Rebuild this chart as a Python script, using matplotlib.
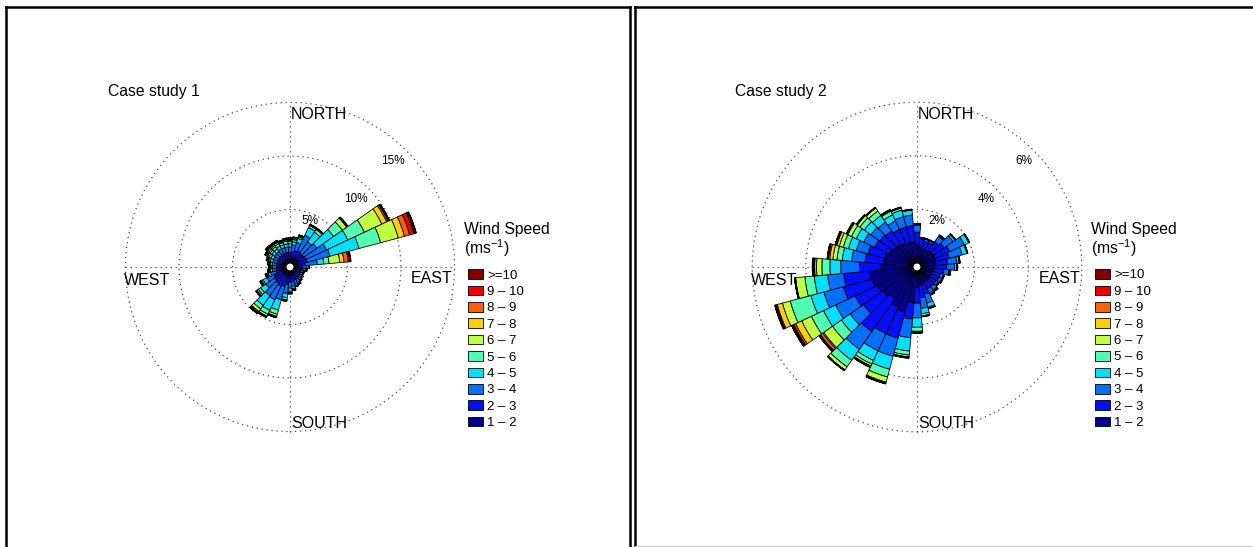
import matplotlib
matplotlib.use("Agg")
import matplotlib.pyplot as plt
from matplotlib.patches import Wedge, Circle, Rectangle

plt.rcParams["font.family"] = ["Liberation Sans", "DejaVu Sans"]
plt.rcParams["mathtext.fontset"] = "custom"
plt.rcParams["mathtext.rm"] = "Liberation Sans"
plt.rcParams["mathtext.it"] = "Liberation Sans:italic"

# compass bearing of each 10 degree sector (centre of sector)
DIRECTIONS = list(range(0, 360, 10))

SPEED_LABELS = ["1 \u2013 2", "2 \u2013 3", "3 \u2013 4", "4 \u2013 5", "5 \u2013 6",
                "6 \u2013 7", "7 \u2013 8", "8 \u2013 9", "9 \u2013 10", ">=10"]
SPEED_COLORS = ["#000090", "#0010ff", "#0070ff", "#00e0ff", "#50ffb0",
                "#c0ff40", "#ffd000", "#ff6000", "#f00000", "#800000"]

# ---- case study 1: frequency (%) per sector, one list per speed class ----
case1_1to2 = [0.40, 0.40, 0.40, 0.40, 0.40, 0.40, 0.40, 0.40, 0.40,
              0.30, 0.30, 0.30, 0.30, 0.30, 0.30, 0.30, 0.35, 0.40,
              0.40, 0.50, 0.50, 0.50, 0.50, 0.50, 0.50, 0.40, 0.40,
              0.40, 0.40, 0.40, 0.40, 0.40, 0.40, 0.40, 0.40, 0.40]
case1_2to3 = [0.60, 0.70, 0.80, 0.90, 0.80, 0.80, 0.90, 0.90, 0.70,
              0.50, 0.50, 0.40, 0.40, 0.45, 0.50, 0.55, 0.55, 0.60,
              0.65, 0.80, 1.00, 1.10, 1.00, 0.90, 0.80, 0.60, 0.50,
              0.50, 0.50, 0.50, 0.50, 0.55, 0.55, 0.60, 0.60, 0.60]
case1_3to4 = [0.50, 0.60, 0.80, 1.60, 1.30, 1.50, 2.10, 2.20, 1.10,
              0.40, 0.30, 0.25, 0.25, 0.30, 0.30, 0.40, 0.40, 0.45,
              0.55, 0.80, 1.30, 1.40, 1.40, 1.00, 0.70, 0.50, 0.40,
              0.35, 0.40, 0.40, 0.40, 0.45, 0.45, 0.50, 0.50, 0.50]
case1_4to5 = [0.30, 0.30, 0.40, 0.80, 1.10, 1.90, 2.20, 2.80, 0.60,
              0.15, 0.10, 0.05, 0.05, 0.05, 0.10, 0.15, 0.15, 0.20,
              0.30, 0.40, 1.00, 1.10, 1.10, 0.60, 0.40, 0.25, 0.20,
              0.15, 0.20, 0.25, 0.30, 0.30, 0.30, 0.30, 0.30, 0.30]
case1_5to6 = [0.20, 0.20, 0.15, 0.20, 0.30, 1.00, 1.70, 2.10, 0.50,
              0.05, 0.00, 0.00, 0.00, 0.00, 0.00, 0.00, 0.05, 0.10,
              0.12, 0.20, 0.40, 0.40, 0.40, 0.25, 0.15, 0.10, 0.10,
              0.10, 0.10, 0.15, 0.20, 0.20, 0.25, 0.25, 0.20, 0.25]
case1_6to7 = [0.10, 0.10, 0.10, 0.06, 0.07, 0.50, 1.80, 1.70, 1.00,
              0.00, 0.00, 0.00, 0.00, 0.00, 0.00, 0.00, 0.00, 0.05,
              0.05, 0.07, 0.20, 0.20, 0.30, 0.15, 0.08, 0.08, 0.05,
              0.05, 0.05, 0.10, 0.15, 0.15, 0.15, 0.15, 0.10, 0.12]
case1_7to8 = [0.08, 0.05, 0.03, 0.02, 0.02, 0.07, 0.50, 0.60, 0.40,
              0.00, 0.00, 0.00, 0.00, 0.00, 0.00, 0.00, 0.00, 0.00,
              0.02, 0.02, 0.06, 0.06, 0.10, 0.05, 0.03, 0.04, 0.03,
              0.03, 0.03, 0.05, 0.10, 0.15, 0.12, 0.08, 0.05, 0.07]
case1_8to9 = [0.06, 0.03, 0.01, 0.01, 0.01, 0.02, 0.15, 0.50, 0.40,
              0.00, 0.00, 0.00, 0.00, 0.00, 0.00, 0.00, 0.00, 0.00,
              0.01, 0.01, 0.02, 0.02, 0.05, 0.03, 0.02, 0.02, 0.01,
              0.01, 0.01, 0.03, 0.08, 0.10, 0.08, 0.04, 0.03, 0.03]
case1_9to10 = [0.03, 0.01, 0.01, 0.01, 0.00, 0.01, 0.05, 0.40, 0.15,
               0.00, 0.00, 0.00, 0.00, 0.00, 0.00, 0.00, 0.00, 0.00,
               0.00, 0.00, 0.01, 0.01, 0.03, 0.01, 0.01, 0.01, 0.01,
               0.01, 0.01, 0.01, 0.04, 0.06, 0.03, 0.02, 0.01, 0.02]
case1_ge10 = [0.03, 0.01, 0.00, 0.00, 0.00, 0.00, 0.05, 0.20, 0.05,
              0.00, 0.00, 0.00, 0.00, 0.00, 0.00, 0.00, 0.00, 0.00,
              0.00, 0.00, 0.01, 0.01, 0.02, 0.01, 0.01, 0.00, 0.00,
              0.00, 0.00, 0.01, 0.03, 0.04, 0.02, 0.01, 0.01, 0.01]

# ---- case study 2 ----
case2_1to2 = [0.70, 0.60, 0.55, 0.55, 0.60, 0.60, 0.60, 0.60, 0.55,
              0.55, 0.50, 0.45, 0.45, 0.45, 0.45, 0.45, 0.50, 0.55,
              0.60, 1.20, 1.60, 1.50, 1.30, 1.40, 1.50, 1.60, 1.65,
              1.20, 1.10, 1.10, 1.00, 0.95, 0.90, 0.85, 0.80, 0.80]
case2_2to3 = [0.45, 0.30, 0.30, 0.30, 0.40, 0.50, 0.60, 0.50, 0.45,
              0.40, 0.35, 0.30, 0.30, 0.28, 0.30, 0.30, 0.40, 0.45,
              0.60, 0.60, 1.00, 1.10, 1.50, 0.90, 0.90, 1.10, 0.95,
              0.80, 0.70, 0.65, 0.60, 0.60, 0.60, 0.55, 0.60, 0.60]
case2_3to4 = [0.25, 0.05, 0.10, 0.10, 0.25, 0.40, 0.60, 0.50, 0.35,
              0.30, 0.20, 0.12, 0.12, 0.10, 0.15, 0.18, 0.35, 0.40,
              0.55, 0.70, 0.70, 0.70, 0.80, 0.60, 0.80, 0.75, 0.60,
              0.70, 0.50, 0.45, 0.45, 0.40, 0.40, 0.35, 0.40, 0.40]
case2_4to5 = [0.05, 0.00, 0.00, 0.00, 0.05, 0.10, 0.20, 0.20, 0.10,
              0.10, 0.05, 0.03, 0.03, 0.02, 0.05, 0.07, 0.15, 0.20,
              0.35, 0.50, 0.50, 0.40, 0.50, 0.40, 0.50, 0.50, 0.50,
              0.40, 0.35, 0.30, 0.30, 0.30, 0.30, 0.25, 0.25, 0.20]
case2_5to6 = [0.00, 0.00, 0.00, 0.00, 0.00, 0.00, 0.00, 0.00, 0.00,
              0.00, 0.00, 0.00, 0.00, 0.00, 0.00, 0.00, 0.05, 0.10,
              0.15, 0.15, 0.30, 0.15, 0.30, 0.40, 0.50, 0.80, 0.35,
              0.30, 0.20, 0.20, 0.20, 0.20, 0.20, 0.15, 0.10, 0.00]
case2_6to7 = [0.00, 0.00, 0.00, 0.00, 0.00, 0.00, 0.00, 0.00, 0.00,
              0.00, 0.00, 0.00, 0.00, 0.00, 0.00, 0.00, 0.00, 0.00,
              0.05, 0.07, 0.20, 0.08, 0.15, 0.40, 0.40, 0.30, 0.35,
              0.20, 0.15, 0.15, 0.15, 0.12, 0.15, 0.05, 0.00, 0.00]
case2_7to8 = [0.00, 0.00, 0.00, 0.00, 0.00, 0.00, 0.00, 0.00, 0.00,
              0.00, 0.00, 0.00, 0.00, 0.00, 0.00, 0.00, 0.00, 0.00,
              0.00, 0.02, 0.03, 0.02, 0.01, 0.05, 0.25, 0.20, 0.02,
              0.07, 0.12, 0.10, 0.04, 0.02, 0.00, 0.00, 0.00, 0.00]
case2_8to9 = [0.00, 0.00, 0.00, 0.00, 0.00, 0.00, 0.00, 0.00, 0.00,
              0.00, 0.00, 0.00, 0.00, 0.00, 0.00, 0.00, 0.00, 0.00,
              0.00, 0.01, 0.01, 0.01, 0.00, 0.10, 0.07, 0.04, 0.00,
              0.03, 0.05, 0.03, 0.01, 0.01, 0.00, 0.00, 0.00, 0.00]
case2_9to10 = [0.00, 0.00, 0.00, 0.00, 0.00, 0.00, 0.00, 0.00, 0.00,
               0.00, 0.00, 0.00, 0.00, 0.00, 0.00, 0.00, 0.00, 0.00,
               0.00, 0.00, 0.005, 0.005, 0.00, 0.03, 0.05, 0.02, 0.00,
               0.02, 0.02, 0.01, 0.00, 0.00, 0.00, 0.00, 0.00, 0.00]
case2_ge10 = [0.00, 0.00, 0.00, 0.00, 0.00, 0.00, 0.00, 0.00, 0.00,
              0.00, 0.00, 0.00, 0.00, 0.00, 0.00, 0.00, 0.00, 0.00,
              0.00, 0.00, 0.005, 0.005, 0.00, 0.02, 0.03, 0.02, 0.00,
              0.02, 0.01, 0.01, 0.00, 0.00, 0.00, 0.00, 0.00, 0.00]

case1 = [case1_1to2, case1_2to3, case1_3to4, case1_4to5, case1_5to6,
         case1_6to7, case1_7to8, case1_8to9, case1_9to10, case1_ge10]
case2 = [case2_1to2, case2_2to3, case2_3to4, case2_4to5, case2_5to6,
         case2_6to7, case2_7to8, case2_8to9, case2_9to10, case2_ge10]

case1_ticks = [5, 10, 15]
case2_ticks = [2, 4, 6]

W, H = 1253, 547
OFFSET = 4.0          # radius of the empty hole in the middle (px)
DOTTED = (0, (1, 3))


def make_panel(fig, left, right, top, bottom, cx, cy):
    """axes whose data units are pixels, origin at the rose centre"""
    ax = fig.add_axes([left / W, 1 - bottom / H, (right - left) / W, (bottom - top) / H])
    ax.set_xlim(left - cx, right - cx)
    ax.set_ylim(cy - bottom, cy - top)
    ax.set_xticks([])
    ax.set_yticks([])
    for s in ax.spines.values():
        s.set_linewidth(1.8)
        s.set_color("black")
    return ax


def draw_rose(ax, classes, ticks, px_per_pct, title):
    R = OFFSET + px_per_pct * ticks[-1]
    for v in ticks:
        ax.add_patch(Circle((0, 0), OFFSET + px_per_pct * v, fill=False,
                            ls=DOTTED, lw=0.9, ec="0.3", zorder=1))
    ax.plot([-R, R], [0, 0], ls=DOTTED, lw=0.9, color="0.3", zorder=1)
    ax.plot([0, 0], [-R, R], ls=DOTTED, lw=0.9, color="0.3", zorder=1)

    for k, bearing in enumerate(DIRECTIONS):
        theta = 90 - bearing
        r0 = OFFSET
        for c, values in enumerate(classes):
            r1 = r0 + px_per_pct * values[k]
            ax.add_patch(Wedge((0, 0), r1, theta - 5, theta + 5, width=r1 - r0,
                               fc=SPEED_COLORS[c], ec="black", lw=0.6, zorder=3))
            r0 = r1
        # closing outline of the bar
        ax.add_patch(Wedge((0, 0), r0, theta - 5, theta + 5, width=0,
                           fc="none", ec="black", lw=1.3, zorder=4))
    ax.add_patch(Circle((0, 0), OFFSET, fc="white", ec="black", lw=0.8, zorder=5))

    # compass labels
    lab = dict(fontsize=11.5, va="baseline")
    ax.text(1, 148, "NORTH", ha="left", **lab)
    ax.text(1, -160.5, "SOUTH", ha="left", **lab)
    ax.text(-166, -18, "WEST", ha="left", **lab)
    ax.text(163, -16, "EAST", ha="right", **lab)

    # percentage labels
    tick_pos = [(28, 43), (78, 65.5), (115, 103)]
    for v, (tx, ty) in zip(ticks, tick_pos):
        ax.text(tx, ty, f"{v}%", ha="right", va="baseline", fontsize=8.5)

    ax.text(-182, 171, title, ha="left", va="baseline", fontsize=11.3)

    # legend
    ax.text(174, 33, "Wind Speed", ha="left", va="baseline", fontsize=11.3)
    ax.text(174, 13, "(ms$^{-1}$)", ha="left", va="baseline", fontsize=11.3)
    for i, c in enumerate(range(len(SPEED_LABELS) - 1, -1, -1)):
        y = -7 - 16.4 * i
        ax.add_patch(Rectangle((178, y - 4.75), 15, 9.5, fc=SPEED_COLORS[c],
                               ec="black", lw=0.6, zorder=3))
        ax.text(197.5, y, SPEED_LABELS[c], ha="left", va="center_baseline", fontsize=9.5)


fig = plt.figure(figsize=(W / 100, H / 100), dpi=100)
fig.patch.set_facecolor("white")

ax1 = make_panel(fig, 6.2, 630, 7, 560, 290, 267)
ax2 = make_panel(fig, 634.7, 1265, 7, 545.5, 917, 267)
ax2.spines["bottom"].set_linewidth(0.8)
ax2.spines["bottom"].set_color("#d0d0d0")

draw_rose(ax1, case1, case1_ticks, 10.7, "Case study 1")
draw_rose(ax2, case2, case2_ticks, 26.8, "Case study 2")

fig.savefig("out.png", dpi=100)
